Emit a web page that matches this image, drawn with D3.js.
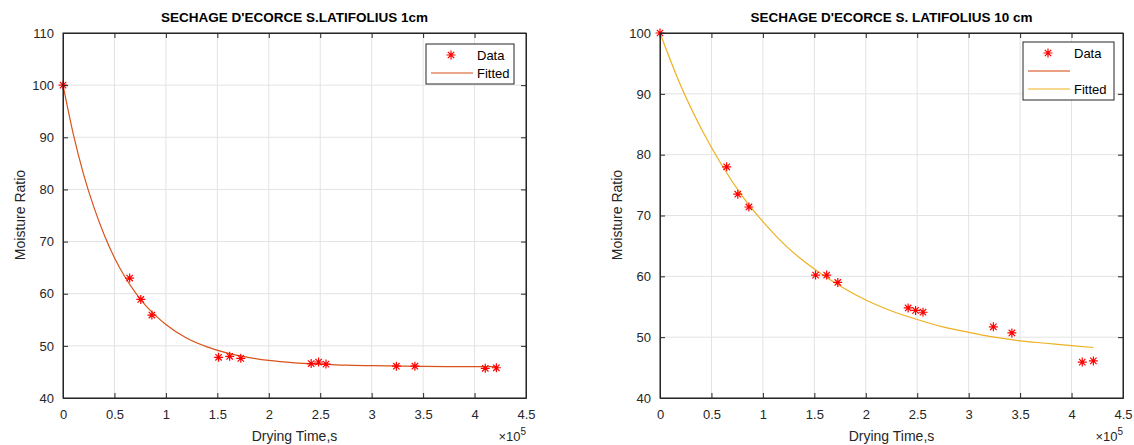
<!DOCTYPE html>
<html lang="en">
<head>
    <meta charset="UTF-8">
    <title>Sechage</title>
    <style>
        body { margin: 0; background: #fff; }
        svg { font-family: "Liberation Sans", Arial, sans-serif; }
        .tick text { fill: #262626; font-size: 13px; }
    </style>
</head>
<body>
<svg id="chart" width="1134" height="445"></svg>

<script src="https://cdn.jsdelivr.net/npm/d3@7"></script>
<script>
    // drying times (s), shared by both samples
    const times = [0, 64800, 75600, 86400, 151200, 162000, 172800, 241200, 248400, 255600, 324000, 342000, 410400, 421200]

    // 1 cm bark
    const mr1 = [100, 63, 58.9, 55.9, 47.8, 48, 47.6, 46.6, 46.9, 46.5, 46.1, 46.1, 45.7, 45.8]
    const fitT1 = [0, 10000, 20000, 30000, 40000, 50000, 60000, 70000, 80000, 90000, 100000, 120000, 140000, 160000, 180000, 200000, 225000, 250000, 275000, 300000, 350000, 400000, 421200]
    const fit1 = [100, 90.6, 82.9, 76.6, 71.3, 66.9, 63.3, 60.3, 57.8, 55.8, 54.1, 51.5, 49.8, 48.6, 47.8, 47.2, 46.75, 46.5, 46.3, 46.2, 46.05, 46.0, 46.0]

    // 10 cm bark
    const mr10 = [100, 78, 73.5, 71.4, 60.2, 60.2, 59, 54.8, 54.4, 54.1, 51.7, 50.7, 45.9, 46.1]
    const fitT10 = [0, 20000, 40000, 60000, 80000, 100000, 125000, 150000, 175000, 200000, 225000, 250000, 275000, 300000, 325000, 350000, 375000, 400000, 421200]
    const fit10 = [100, 91.4, 84.3, 78.3, 73.2, 69.0, 64.6, 61.2, 58.4, 56.1, 54.3, 52.9, 51.7, 50.8, 50.0, 49.4, 49.0, 48.6, 48.3]

    const xTicks = [0, 50000, 100000, 150000, 200000, 250000, 300000, 350000, 400000, 450000]
    const yTicks1 = [40, 50, 60, 70, 80, 90, 100, 110]
    const yTicks10 = [40, 50, 60, 70, 80, 90, 100]

    const svg = d3.select('#chart')
    const ink = '#262626'
    const star = 'M-4.5,0H4.5M0,-4.5V4.5M-3.2,-3.2L3.2,3.2M-3.2,3.2L3.2,-3.2'

    function panel(o) {
        let x = d3.scaleLinear().domain([0, 450000]).range([o.left, o.left + 463])
        let y = d3.scaleLinear().domain(o.yDomain).range([398, 33])
        let g = svg.append('g')

        // grid
        g.selectAll('.gx').data(xTicks).enter().append('line')
            .attr('x1', d => x(d)).attr('x2', d => x(d))
            .attr('y1', 33).attr('y2', 398)
            .attr('stroke', '#e3e3e3')
        g.selectAll('.gy').data(o.yTicks).enter().append('line')
            .attr('x1', o.left).attr('x2', o.left + 463)
            .attr('y1', d => y(d)).attr('y2', d => y(d))
            .attr('stroke', '#e3e3e3')

        // fitted curve
        let line = d3.line().x(d => x(d[0])).y(d => y(d[1])).curve(d3.curveMonotoneX)
        g.append('path')
            .datum(o.fitT.map((t, i) => [t, o.fit[i]]))
            .attr('d', line)
            .attr('fill', 'none')
            .attr('stroke', o.color)
            .attr('stroke-width', 1.2)

        // data points
        g.selectAll('.pt').data(o.ys).enter().append('path')
            .attr('d', star)
            .attr('transform', (d, i) => `translate(${x(times[i])},${y(d)})`)
            .attr('stroke', '#ff0000')
            .attr('stroke-width', 1.2)
            .attr('fill', 'none')

        // axes, ticks inward, box on
        let fmt = d => d === 0 ? '0' : d3.format('')(d / 1e5)
        g.append('g').attr('transform', 'translate(0,398)')
            .call(d3.axisBottom(x).tickValues(xTicks).tickFormat(fmt).tickSizeInner(-5).tickSizeOuter(0).tickPadding(12))
        g.append('g').attr('transform', 'translate(0,33)')
            .call(d3.axisTop(x).tickValues(xTicks).tickFormat('').tickSizeInner(-5).tickSizeOuter(0))
        g.append('g').attr('transform', `translate(${o.left},0)`)
            .call(d3.axisLeft(y).tickValues(o.yTicks).tickSizeInner(-5).tickSizeOuter(0).tickPadding(9))
        g.append('g').attr('transform', `translate(${o.left + 463},0)`)
            .call(d3.axisRight(y).tickValues(o.yTicks).tickFormat('').tickSizeInner(-5).tickSizeOuter(0))
        g.selectAll('.domain, .tick line').attr('stroke', ink)
        g.append('rect').attr('x', o.left).attr('y', 33).attr('width', 463).attr('height', 365)
            .attr('fill', 'none').attr('stroke', ink)

        // texts
        g.append('text').attr('x', o.left + 231.5).attr('y', 22).attr('text-anchor', 'middle')
            .attr('font-size', 13.5).attr('font-weight', 'bold').attr('fill', '#000').text(o.title)
        g.append('text').attr('x', o.left + 231.5).attr('y', 441).attr('text-anchor', 'middle')
            .attr('font-size', 14).attr('fill', ink).text('Drying Time,s')
        g.append('text').attr('transform', `translate(${o.left - 38},215) rotate(-90)`).attr('text-anchor', 'middle')
            .attr('font-size', 14).attr('fill', ink).text('Moisture Ratio')
        let e = g.append('text').attr('x', o.left + 463).attr('y', 441).attr('text-anchor', 'end')
            .attr('font-size', 13).attr('fill', ink)
        e.append('tspan').text('\u00d710')
        e.append('tspan').attr('dy', -6).attr('font-size', 10).text('5')

        // legend
        let lg = g.append('g').attr('transform', `translate(${o.legX},${o.legY})`)
        lg.append('rect').attr('width', o.legW).attr('height', o.legItems.length * 18 + 4)
            .attr('fill', '#fff').attr('stroke', ink).attr('stroke-width', 1)
        o.legItems.forEach((it, i) => {
            let cy = 11 + i * 18
            if (it.type === 'star') {
                lg.append('path').attr('d', star).attr('transform', `translate(25,${cy})`)
                    .attr('stroke', '#ff0000').attr('stroke-width', 1.2).attr('fill', 'none')
            } else {
                lg.append('line').attr('x1', 5).attr('x2', 47).attr('y1', cy).attr('y2', cy)
                    .attr('stroke', it.color).attr('stroke-width', it.width || 1.2)
            }
            lg.append('text').attr('x', 51).attr('y', cy + 4.5).attr('font-size', 13).attr('fill', '#000').text(it.label)
        })
    }

    panel({
        left: 63, yDomain: [40, 110], yTicks: yTicks1, fitT: fitT1, fit: fit1, ys: mr1,
        color: '#d95319', title: "SECHAGE D'ECORCE S.LATIFOLIUS 1cm",
        legX: 426, legY: 44, legW: 88,
        legItems: [{type: 'star', label: 'Data'}, {type: 'line', color: '#d95319', label: 'Fitted'}]
    })
    panel({
        left: 660, yDomain: [40, 100], yTicks: yTicks10, fitT: fitT10, fit: fit10, ys: mr10,
        color: '#edb120', title: "SECHAGE D'ECORCE S. LATIFOLIUS 10 cm",
        legX: 1023, legY: 42, legW: 91,
        legItems: [{type: 'star', label: 'Data'}, {type: 'line', color: '#e9a083', width: 2, label: ''}, {type: 'line', color: '#edb120', label: 'Fitted'}]
    })
</script>
</body>
</html>
